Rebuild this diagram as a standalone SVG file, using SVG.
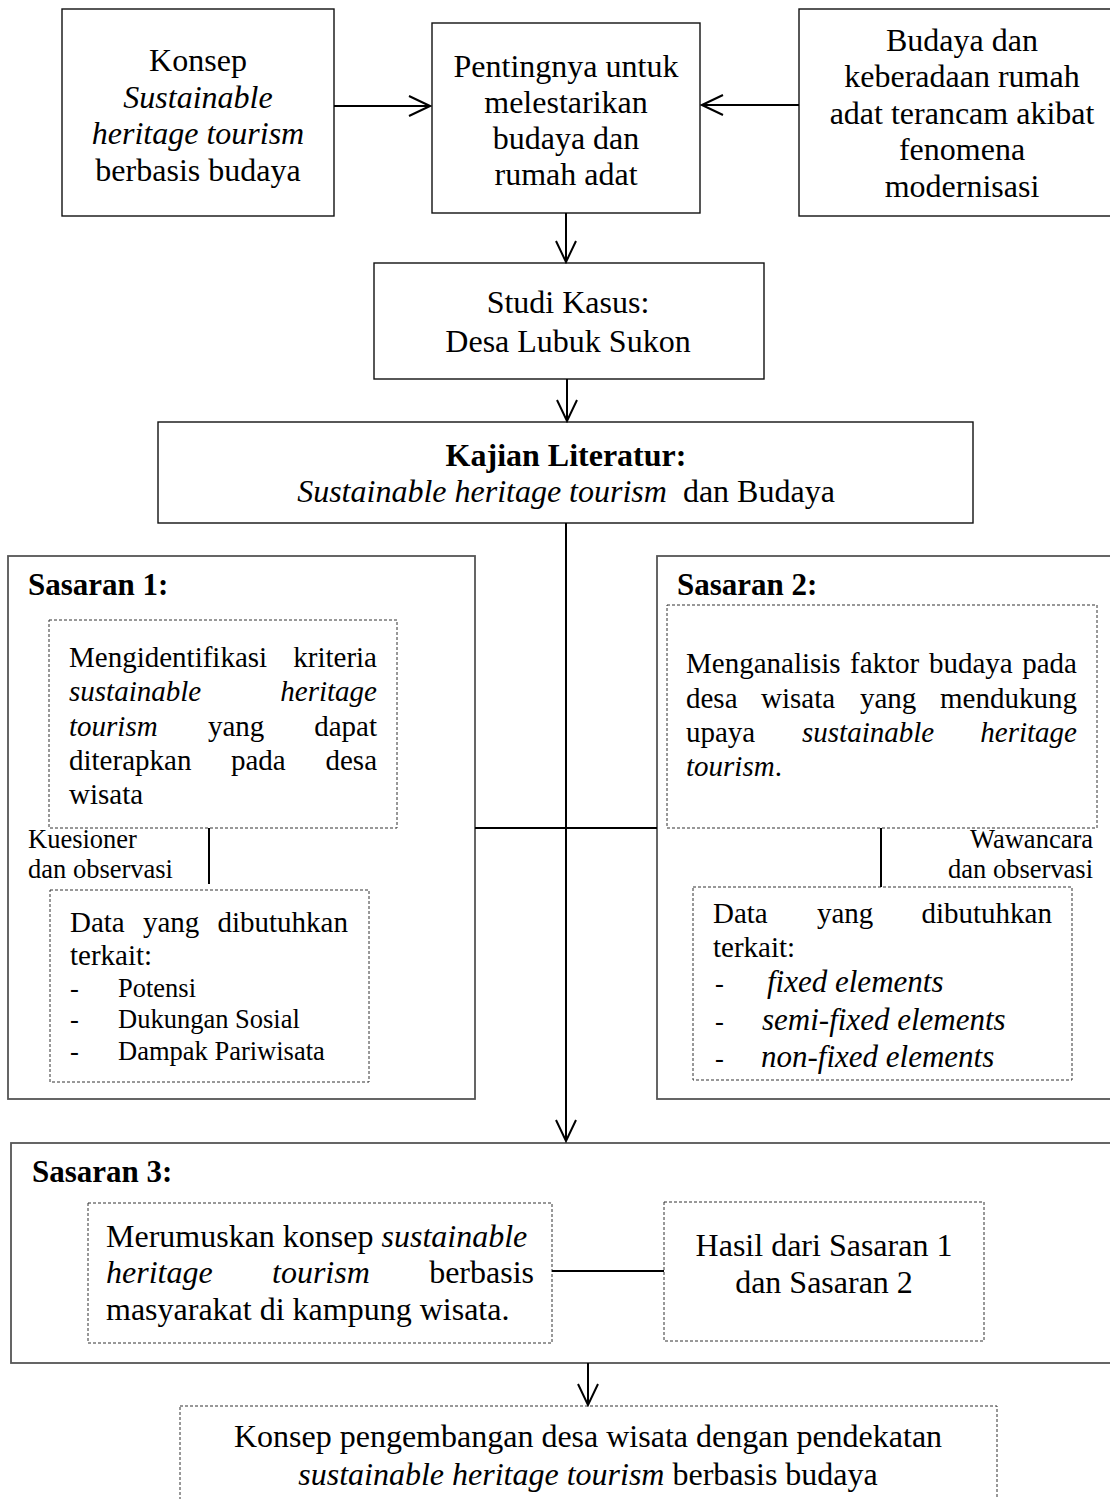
<svg xmlns="http://www.w3.org/2000/svg" width="1110" height="1499" viewBox="0 0 1110 1499">
  <style>
    .t { font-family: "Liberation Serif", "Times New Roman", serif; fill: #000; }
    .f32 { font-size: 32px; }
    .f29 { font-size: 29px; }
    .f31 { font-size: 31px; }
    .f26 { font-size: 26.5px; }
    .b { font-weight: bold; }
    .i { font-style: italic; }
    .mid { text-anchor: middle; }
    .end { text-anchor: end; }
    .box { fill: #fff; stroke: #111; stroke-width: 1.4; }
    .group { fill: #fff; stroke: #555; stroke-width: 1.8; }
    .dot { fill: #fff; stroke: #333; stroke-width: 1; stroke-dasharray: 3 2; }
    .wire { fill: none; stroke: #000; stroke-width: 2; }
  </style>
  <defs>
    <marker id="arrow" viewBox="0 0 24 24" refX="22" refY="12" markerWidth="24" markerHeight="24" markerUnits="userSpaceOnUse" orient="auto">
      <path d="M1,2 L22,12 L1,22" fill="none" stroke="#000" stroke-width="2"/>
    </marker>
  </defs>

  <rect width="1110" height="1499" fill="#fff"/>

  <!-- Top row -->
  <g id="konsep">
    <rect class="box" x="62" y="9" width="272" height="207"/>
    <text class="t f32 mid" x="198" y="71">Konsep</text>
    <text class="t f32 mid i" x="198" y="108">Sustainable</text>
    <text class="t f32 mid i" x="198" y="144">heritage tourism</text>
    <text class="t f32 mid" x="198" y="181">berbasis budaya</text>
  </g>

  <g id="pentingnya">
    <rect class="box" x="432" y="23" width="268" height="190"/>
    <text class="t f32 mid" x="566" y="77">Pentingnya untuk</text>
    <text class="t f32 mid" x="566" y="113">melestarikan</text>
    <text class="t f32 mid" x="566" y="149">budaya dan</text>
    <text class="t f32 mid" x="566" y="185">rumah adat</text>
  </g>

  <g id="budaya">
    <rect class="box" x="799" y="9" width="326" height="207"/>
    <text class="t f32 mid" x="962" y="51">Budaya dan</text>
    <text class="t f32 mid" x="962" y="87">keberadaan rumah</text>
    <text class="t f32 mid" x="962" y="124">adat terancam akibat</text>
    <text class="t f32 mid" x="962" y="160">fenomena</text>
    <text class="t f32 mid" x="962" y="197">modernisasi</text>
  </g>

  <g id="studi-kasus">
    <rect class="box" x="374" y="263" width="390" height="116"/>
    <text class="t f32 mid" x="568" y="313">Studi Kasus:</text>
    <text class="t f32 mid" x="568" y="352">Desa Lubuk Sukon</text>
  </g>

  <g id="kajian-literatur">
    <rect class="box" x="158" y="422" width="815" height="101"/>
    <text class="t f32 mid b" x="566" y="466">Kajian Literatur:</text>
    <text class="t f32 mid" x="566" y="502"><tspan class="i">Sustainable heritage tourism</tspan><tspan dx="8"> dan Budaya</tspan></text>
  </g>

  <!-- Sasaran 1 -->
  <g id="sasaran-1">
    <rect class="group" x="8" y="556" width="467" height="543"/>
    <text class="t f31 b" x="28" y="595">Sasaran 1:</text>
    <g id="sasaran-1-tujuan">
      <rect class="dot" x="49" y="620" width="348" height="208"/>
      <text class="t f29" x="69" y="667">Mengidentifikasi</text>
      <text class="t f29 end" x="377" y="667">kriteria</text>
      <text class="t f29 i" x="69" y="701">sustainable</text>
      <text class="t f29 i end" x="377" y="701">heritage</text>
      <text class="t f29 i" x="69" y="736">tourism</text>
      <text class="t f29" x="208" y="736">yang</text>
      <text class="t f29 end" x="377" y="736">dapat</text>
      <text class="t f29" x="69" y="770">diterapkan</text>
      <text class="t f29" x="231" y="770">pada</text>
      <text class="t f29 end" x="377" y="770">desa</text>
      <text class="t f29" x="69" y="804">wisata</text>
    </g>
    <text class="t f26" x="28" y="848">Kuesioner</text>
    <text class="t f26" x="28" y="878">dan observasi</text>
    <g id="sasaran-1-data">
      <rect class="dot" x="50" y="890" width="319" height="192"/>
      <text class="t f29" x="70" y="932">Data</text>
      <text class="t f29" x="143" y="932">yang</text>
      <text class="t f29 end" x="348" y="932">dibutuhkan</text>
      <text class="t f29" x="70" y="965">terkait:</text>
      <text class="t f26" x="70" y="997">-</text>
      <text class="t f26" x="118" y="997">Potensi</text>
      <text class="t f26" x="70" y="1028">-</text>
      <text class="t f26" x="118" y="1028">Dukungan Sosial</text>
      <text class="t f26" x="70" y="1060">-</text>
      <text class="t f26" x="118" y="1060">Dampak Pariwisata</text>
    </g>
  </g>

  <!-- Sasaran 2 -->
  <g id="sasaran-2">
    <rect class="group" x="657" y="556" width="470" height="543"/>
    <text class="t f31 b" x="677" y="595">Sasaran 2:</text>
    <g id="sasaran-2-tujuan">
      <rect class="dot" x="667" y="605" width="430" height="223"/>
      <text class="t f29" x="686" y="673">Menganalisis</text>
      <text class="t f29" x="850" y="673">faktor</text>
      <text class="t f29" x="929" y="673">budaya</text>
      <text class="t f29 end" x="1077" y="673">pada</text>
      <text class="t f29" x="686" y="708">desa</text>
      <text class="t f29" x="761" y="708">wisata</text>
      <text class="t f29" x="860" y="708">yang</text>
      <text class="t f29 end" x="1077" y="708">mendukung</text>
      <text class="t f29" x="686" y="742">upaya</text>
      <text class="t f29 i" x="802" y="742">sustainable</text>
      <text class="t f29 i end" x="1077" y="742">heritage</text>
      <text class="t f29" x="686" y="776"><tspan class="i">tourism</tspan>.</text>
    </g>
    <text class="t f26 end" x="1093" y="848">Wawancara</text>
    <text class="t f26 end" x="1093" y="878">dan observasi</text>
    <g id="sasaran-2-data">
      <rect class="dot" x="693" y="887" width="379" height="193"/>
      <text class="t f29" x="713" y="923">Data</text>
      <text class="t f29" x="817" y="923">yang</text>
      <text class="t f29 end" x="1052" y="923">dibutuhkan</text>
      <text class="t f29" x="713" y="957">terkait:</text>
      <text class="t f26" x="715" y="992">-</text>
      <text class="t f31 i" x="767" y="992">fixed elements</text>
      <text class="t f26" x="715" y="1030">-</text>
      <text class="t f31 i" x="762" y="1030">semi-fixed elements</text>
      <text class="t f26" x="715" y="1067">-</text>
      <text class="t f31 i" x="761" y="1067">non-fixed elements</text>
    </g>
  </g>

  <!-- Sasaran 3 -->
  <g id="sasaran-3">
    <rect class="group" x="11" y="1143" width="1115" height="220"/>
    <text class="t f31 b" x="32" y="1182">Sasaran 3:</text>
    <g id="sasaran-3-tujuan">
      <rect class="dot" x="88" y="1203" width="464" height="140"/>
      <text class="t f32" x="106" y="1247">Merumuskan konsep <tspan class="i">sustainable</tspan></text>
      <text class="t f32 i" x="106" y="1283">heritage</text>
      <text class="t f32 i" x="272" y="1283">tourism</text>
      <text class="t f32 end" x="534" y="1283">berbasis</text>
      <text class="t f32" x="106" y="1320">masyarakat di kampung wisata.</text>
    </g>
    <g id="sasaran-3-hasil">
      <rect class="dot" x="664" y="1202" width="320" height="139"/>
      <text class="t f32 mid" x="824" y="1256">Hasil dari Sasaran 1</text>
      <text class="t f32 mid" x="824" y="1293">dan Sasaran 2</text>
    </g>
  </g>

  <g id="konsep-pengembangan">
    <rect class="dot" x="180" y="1406" width="817" height="110"/>
    <text class="t f32 mid" x="588" y="1447">Konsep pengembangan desa wisata dengan pendekatan</text>
    <text class="t f32 mid" x="588" y="1485"><tspan class="i">sustainable heritage tourism</tspan> berbasis budaya</text>
  </g>

  <!-- Connectors -->
  <g id="connectors">
    <line class="wire" x1="334" y1="106" x2="430" y2="106" marker-end="url(#arrow)"/>
    <line class="wire" x1="799" y1="105" x2="702" y2="105" marker-end="url(#arrow)"/>
    <line class="wire" x1="566" y1="213" x2="566" y2="262" marker-end="url(#arrow)"/>
    <line class="wire" x1="567" y1="379" x2="567" y2="421" marker-end="url(#arrow)"/>
    <line class="wire" x1="566" y1="523" x2="566" y2="1141" marker-end="url(#arrow)"/>
    <line class="wire" x1="475" y1="828" x2="657" y2="828"/>
    <line class="wire" x1="209" y1="828" x2="209" y2="884"/>
    <line class="wire" x1="881" y1="828" x2="881" y2="887"/>
    <line class="wire" x1="552" y1="1271" x2="664" y2="1271"/>
    <line class="wire" x1="588" y1="1363" x2="588" y2="1405" marker-end="url(#arrow)"/>
  </g>
</svg>
